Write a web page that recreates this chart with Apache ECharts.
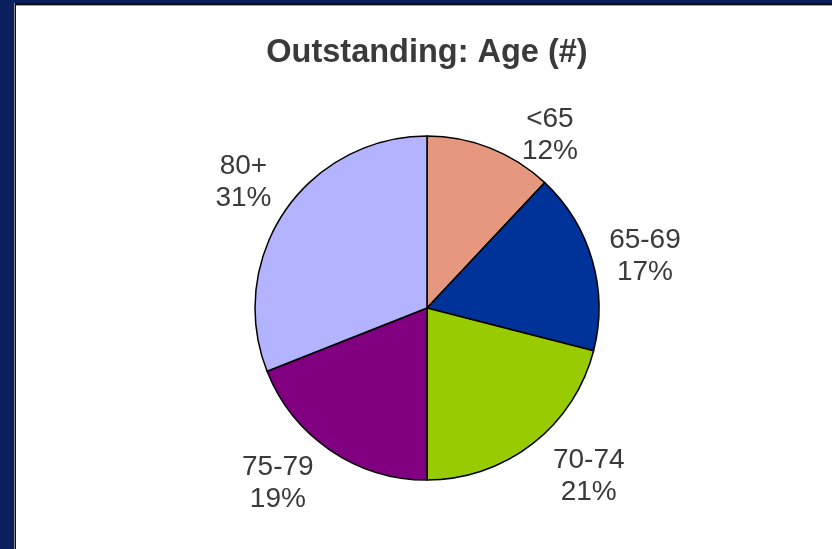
<!DOCTYPE html>
<html>
<head>
<meta charset="utf-8">
<script src="https://cdn.jsdelivr.net/npm/echarts@6/dist/echarts.min.js"></script>
<style>
  html, body { margin: 0; padding: 0; width: 832px; height: 549px; overflow: hidden; background: #0b1f5e; }
  #frame { position: absolute; left: 14px; top: 3px; width: 818px; height: 546px; background: #111; border-left: 1px solid #8c8c8c; box-sizing: border-box; }
  #panel { position: absolute; left: 16px; top: 5px; right: 0; bottom: 0; background: #fff; border-top: 1px solid #a0a0a0; }
  #chart { position: absolute; left: 0; top: 0; width: 832px; height: 549px; }
</style>
</head>
<body>
<div id="frame"></div>
<div id="panel"></div>
<div id="chart"></div>
<script>
// Age bands and their share of outstanding count (%)
const categories = ['<65', '65-69', '70-74', '75-79', '80+'];
const shares = [12, 17, 21, 19, 31];
const sliceColors = ['#e6987f', '#003399', '#99cc00', '#800080', '#b3b3ff'];

// Small nudges so each label sits where it reads best around the pie
const labelNudges = [[39, 39], [-1, 12], [22, -12], [-21, -13], [5, 2]];

const pieCenter = [427, 308];
const pieRadius = 172;

const chart = echarts.init(document.getElementById('chart'), null, { renderer: 'canvas' });

const sliceData = categories.map((name, i) => ({
  name: name,
  value: shares[i],
  itemStyle: { color: sliceColors[i] }
}));

const labelData = categories.map((name, i) => ({
  name: name,
  value: shares[i],
  label: { offset: labelNudges[i] }
}));

chart.setOption({
  backgroundColor: 'transparent',
  animation: false,
  graphic: [{
    type: 'text',
    x: 427,
    y: 53,
    silent: true,
    style: {
      text: 'Outstanding: Age (#)',
      align: 'center',
      verticalAlign: 'middle',
      fontFamily: 'Liberation Sans, Arial, sans-serif',
      fontSize: 32.5,
      fontWeight: 'bold',
      fill: '#3a3a3a'
    }
  }],
  series: [
    {
      type: 'pie',
      center: pieCenter,
      radius: pieRadius,
      startAngle: 90,
      clockwise: true,
      silent: true,
      avoidLabelOverlap: false,
      label: { show: false },
      labelLine: { show: false },
      itemStyle: { borderColor: '#000', borderWidth: 1.5 },
      emphasis: { disabled: true },
      data: sliceData
    },
    {
      // label ring: transparent sectors carrying the category/percent text
      type: 'pie',
      center: pieCenter,
      radius: [195, 255],
      startAngle: 90,
      clockwise: true,
      silent: true,
      avoidLabelOverlap: false,
      itemStyle: { color: 'rgba(0,0,0,0)', borderWidth: 0 },
      emphasis: { disabled: true },
      labelLine: { show: false },
      label: {
        show: true,
        position: 'inside',
        fontFamily: 'Liberation Sans, Arial, sans-serif',
        fontSize: 28,
        lineHeight: 32,
        color: '#3a3a3a',
        align: 'center',
        verticalAlign: 'middle',
        formatter: p => p.name + '\n' + p.value + '%'
      },
      data: labelData
    }
  ]
});
</script>
</body>
</html>
